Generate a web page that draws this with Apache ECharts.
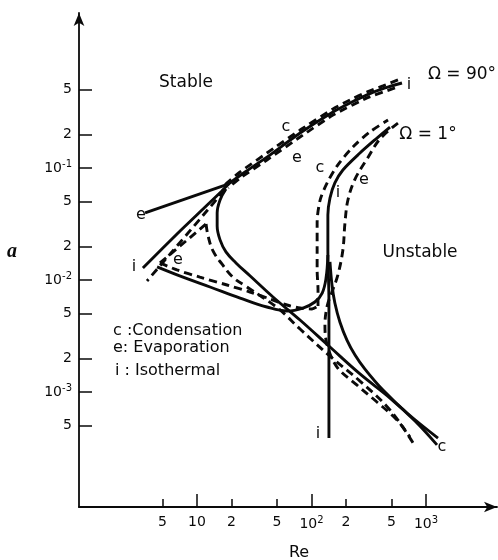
<!DOCTYPE html>
<html>
<head>
<meta charset="utf-8">
<script src="https://cdn.jsdelivr.net/npm/echarts@6/dist/echarts.min.js"></script>
<style>
  html, body { margin: 0; padding: 0; background: #fff; }
  #chart { width: 498px; height: 560px; }
</style>
</head>
<body>
<div id="chart"></div>
<script>
// Axis extents (Re horizontally, wave number a vertically), both logarithmic
const reRange = [0.932, 4170];
const aRange = [9.4e-5, 2.42];

// Tick positions and their printed labels
const reTicks = [5, 10, 20, 50, 100, 200, 500, 1000];
const reTickLabels = ['5', '10', '2', '5', '10{s|2}', '2', '5', '10{s|3}'];
const reMajorTicks = [10, 100, 1000];
const aTicks = [0.5, 0.2, 0.1, 0.05, 0.02, 0.01, 0.005, 0.002, 0.001, 0.0005];
const aTickLabels = ['5', '2', '10{s|-1}', '5', '2', '10{s|-2}', '5', '2', '10{s|-3}', '5'];

// Neutral curves, [Re, a] pairs
// Ω = 90°
const w90Iso = [[617, 0.574], [439, 0.518], [305, 0.449], [217, 0.380], [154, 0.316], [79.4, 0.205],
  [40.8, 0.125], [26.3, 0.0921], [19.4, 0.0735], [16.5, 0.0624], [7.11, 0.0274], [3.37, 0.0128]];
const w90CondBand = [[569, 0.611], [421, 0.540], [305, 0.477], [217, 0.405], [154, 0.337], [79.4, 0.218],
  [40.8, 0.136], [23.8, 0.0921], [17.9, 0.0719], [16.5, 0.0598], [3.66, 0.0098]];
const w90EvapBand = [[536, 0.518], [305, 0.422], [154, 0.297], [79.4, 0.189], [40.8, 0.118],
  [23.8, 0.0814], [18.7, 0.0663]];
const w90EvapLeft = [[18.7, 0.0719], [3.52, 0.0397]];
const w90CondLower = [[17.9, 0.0649], [15.9, 0.0518], [15.0, 0.0397], [15.0, 0.0303], [15.9, 0.0228],
  [17.9, 0.0178], [21.9, 0.0142], [29.0, 0.0109], [46.1, 0.00705], [79.4, 0.00439], [145, 0.00252],
  [265, 0.00145], [485, 0.000883], [802, 0.000551], [1248, 0.000337]];
const evapLoopLeg = [[4.75, 0.0142], [12.0, 0.0316]];
const evapLoopArc = [[12.0, 0.0316], [12.5, 0.0247], [13.8, 0.0182], [16.5, 0.0139], [20.6, 0.0106],
  [27.3, 0.00866], [37.0, 0.00705], [53.1, 0.0054], [79.4, 0.00365], [145, 0.00209], [265, 0.00125],
  [485, 0.000691], [770, 0.000351]];
// Ω = 1°
const w1Iso = [[485, 0.232], [373, 0.185], [265, 0.136], [188, 0.096], [160, 0.0735], [145, 0.054],
  [139, 0.038], [139, 0.0185], [142, 0.00663], [142, 0.000388]];
const w1IsoLower = [[4.48, 0.0131], [7.55, 0.0106], [13.0, 0.00866], [23.8, 0.0069], [40.8, 0.00574],
  [61.1, 0.00529], [84.3, 0.00562], [107, 0.00636], [124, 0.00765], [134, 0.0104], [139, 0.0167]];
const w1Branch = [[145, 0.0145], [151, 0.00902], [160, 0.00623], [177, 0.00422], [204, 0.00291],
  [240, 0.00214], [293, 0.0016], [421, 0.00104], [683, 0.000649], [1273, 0.000388]];
const w1CondValley = [[4.75, 0.0142], [6.69, 0.0123], [10.6, 0.0106], [18.3, 0.00902], [29.0, 0.00781],
  [43.4, 0.00677], [61.1, 0.00598], [79.4, 0.00562], [101, 0.00551], [114, 0.00586]];
const w1Cond = [[114, 0.00586], [114, 0.00814], [112, 0.0123], [112, 0.0185], [112, 0.0323], [119, 0.0518],
  [137, 0.0735], [167, 0.104], [230, 0.154], [324, 0.21], [466, 0.268]];
const w1Evap = [[569, 0.252], [397, 0.182], [305, 0.12], [240, 0.0797], [208, 0.0518], [196, 0.0323],
  [188, 0.0185], [170, 0.0111], [151, 0.00781], [137, 0.00586], [131, 0.00396], [137, 0.00263],
  [167, 0.00167], [250, 0.00115], [373, 0.000814], [558, 0.000562], [725, 0.000396]];

const FONT = 'DejaVu Sans';
const INK = '#0a0a0a';
const lg = Math.log10;
const toLog = pts => pts.map(p => [lg(p[0]), lg(p[1])]);
const tickText = (ticks, labels) => v => {
  const i = ticks.findIndex(t => Math.abs(lg(t) - v) < 1e-6);
  return i < 0 ? '' : labels[i];
};

const solid = { color: INK, width: 2.9, type: 'solid' };
const dashed = { color: INK, width: 2.9, type: [8, 5] };
function curve(name, pts, style, smooth) {
  return {
    name, type: 'line', data: toLog(pts), symbol: 'none', showSymbol: false,
    smooth: smooth, lineStyle: style, silent: true, z: 3
  };
}

const supRich = { s: { fontSize: 10, fontFamily: FONT, color: INK, padding: [0, 0, 8, 0] } };

function text(str, x, y, size, extra) {
  return Object.assign({
    type: 'text', x: x, y: y, silent: true,
    style: { text: str, fill: INK, font: size + 'px "' + FONT + '"', align: 'center', verticalAlign: 'middle',
      textAlign: 'center', textVerticalAlign: 'middle' }
  }, extra || {});
}
function leftText(str, x, y, size) {
  return {
    type: 'text', x: x, y: y, silent: true,
    style: { text: str, fill: INK, font: size + 'px "' + FONT + '"', align: 'left', verticalAlign: 'middle',
      textAlign: 'left', textVerticalAlign: 'middle' }
  };
}

const chart = echarts.init(document.getElementById('chart'), null, { renderer: 'canvas' });
chart.setOption({
  animation: false,
  backgroundColor: '#fff',
  grid: { left: 79, right: 1, top: 13, bottom: 53, containLabel: false, outerBoundsMode: 'none' },
  xAxis: [{
    type: 'value', min: lg(reRange[0]), max: lg(reRange[1]), position: 'bottom',
    axisLine: { show: true, onZero: false, lineStyle: { color: INK, width: 1.8 }, symbol: ['none', 'arrow'], symbolSize: [8, 13] },
    axisTick: { show: true, inside: true, length: 8, customValues: reTicks.map(lg), lineStyle: { color: INK, width: 1.5 } },
    axisLabel: { show: true, customValues: reTicks.map(lg), formatter: tickText(reTicks, reTickLabels),
      margin: 8, color: INK, fontFamily: FONT, fontSize: 14, rich: supRich },
    splitLine: { show: false }
  }, {
    type: 'value', min: lg(reRange[0]), max: lg(reRange[1]), position: 'bottom',
    axisLine: { show: false, onZero: false },
    axisTick: { show: true, inside: true, length: 13, customValues: reMajorTicks.map(lg), lineStyle: { color: INK, width: 1.5 } },
    axisLabel: { show: false },
    splitLine: { show: false }
  }],
  yAxis: {
    type: 'value', min: lg(aRange[0]), max: lg(aRange[1]), position: 'left',
    axisLine: { show: true, onZero: false, lineStyle: { color: INK, width: 1.8 }, symbol: ['none', 'arrow'], symbolSize: [8, 13] },
    axisTick: { show: true, inside: true, length: 13, customValues: aTicks.map(lg), lineStyle: { color: INK, width: 1.5 } },
    axisLabel: { show: true, customValues: aTicks.map(lg), formatter: tickText(aTicks, aTickLabels),
      margin: 7, color: INK, fontFamily: FONT, fontSize: 14, rich: supRich },
    splitLine: { show: false }
  },
  series: [
    curve('Ω=90° i', w90Iso, solid, 0.15),
    curve('Ω=90° c', w90CondBand, dashed, 0.15),
    curve('Ω=90° e', w90EvapBand, dashed, 0.15),
    curve('Ω=90° e (low Re)', w90EvapLeft, solid, false),
    curve('Ω=90° c (lower branch)', w90CondLower, solid, 0.4),
    curve('e loop leg', evapLoopLeg, dashed, false),
    curve('e loop arc', evapLoopArc, dashed, 0.4),
    curve('Ω=1° i', w1Iso, solid, 0.3),
    curve('Ω=1° i (lower)', w1IsoLower, solid, 0.4),
    curve('Ω=1° c (lower branch)', w1Branch, solid, 0.4),
    curve('Ω=1° c valley', w1CondValley, dashed, 0.3),
    curve('Ω=1° c', w1Cond, dashed, 0.3),
    curve('Ω=1° e', w1Evap, dashed, 0.35)
  ],
  graphic: [
    text('Stable', 186, 83, 17),
    text('Unstable', 420, 253, 17),
    text('Ω = 90°', 462, 75, 17),
    text('Ω = 1°', 428, 135, 17),
    text('Re', 299, 553, 16),
    { type: 'text', x: 12, y: 252, silent: true,
      style: { text: 'a', fill: INK, font: 'italic bold 20px "Liberation Serif"', align: 'center', verticalAlign: 'middle',
        textAlign: 'center', textVerticalAlign: 'middle' } },
    leftText('c :Condensation', 113, 331, 16),
    leftText('e: Evaporation', 113, 348, 16),
    leftText('i : Isothermal', 115, 371, 16),
    text('i', 409, 85, 16),
    text('c', 286, 127, 16),
    text('e', 297, 158, 16),
    text('c', 320, 168, 16),
    text('i', 338, 193, 16),
    text('e', 364, 180, 16),
    text('e', 141, 215, 16),
    text('i', 134, 267, 16),
    text('e', 178, 260, 16),
    text('i', 318, 434, 16),
    text('c', 442, 447, 16)
  ]
});
</script>
</body>
</html>
